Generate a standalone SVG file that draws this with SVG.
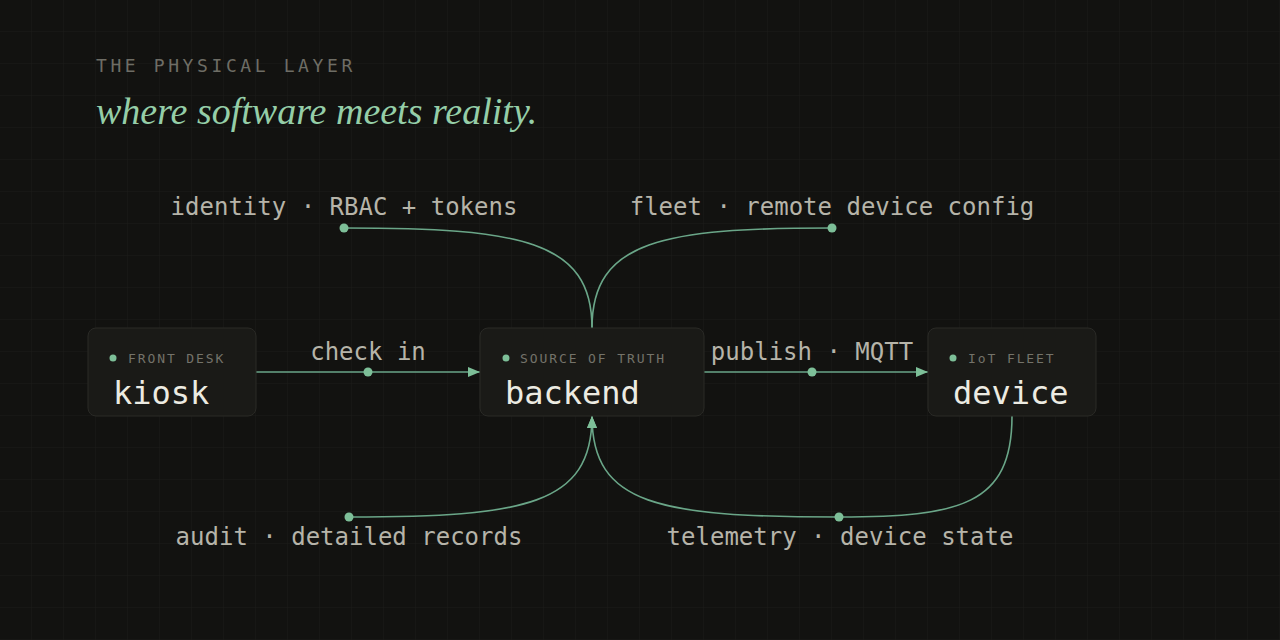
<svg xmlns="http://www.w3.org/2000/svg" width="1280" height="640" viewBox="0 0 1280 640">
  <defs>
    <pattern id="grid" width="32" height="32" patternUnits="userSpaceOnUse">
      <path d="M32 0 V32 M0 32 H32" fill="none" stroke="#1c1c19" stroke-width="1"/>
    </pattern>
    <marker id="arrow" viewBox="0 0 12 10" refX="12" refY="5" markerWidth="12" markerHeight="10" markerUnits="userSpaceOnUse" orient="auto">
      <path d="M0 0 L12 5 L0 10 Z" fill="#7dbf98"/>
    </marker>
    <style>
      .mono { font-family: "DejaVu Sans Mono", "Liberation Mono", monospace; }
      .box { fill: #1a1a17; stroke: #2a2a26; stroke-width: 1; }
      .tag { font-size: 13px; letter-spacing: 1.9px; fill: #74736a; }
      .title { font-size: 32px; fill: #ecebe2; }
      .elabel { font-size: 24px; fill: #b6b4a9; text-anchor: middle; }
      .edge { fill: none; stroke: #6aa688; stroke-width: 1.6; }
      .dot { fill: #7dbf98; }
    </style>
  </defs>

  <rect width="1280" height="640" fill="#121210"/>
  <rect width="1280" height="640" fill="url(#grid)"/>

  <g id="header">
    <text x="96" y="72" class="mono" font-size="18" letter-spacing="3.6" fill="#6e6d65">THE PHYSICAL LAYER</text>
    <text x="96" y="124" font-family="Liberation Serif, serif" font-style="italic" font-size="38" fill="#95cea8">where software meets reality.</text>
  </g>

  <g id="connectors">
    <path class="edge" d="M256 372 H480" marker-end="url(#arrow)"/>
    <circle class="dot" cx="368" cy="372" r="4.5"/>
    <text class="mono elabel" x="368" y="360">check in</text>

    <path class="edge" d="M704 372 H928" marker-end="url(#arrow)"/>
    <circle class="dot" cx="812" cy="372" r="4.5"/>
    <text class="mono elabel" x="812" y="360">publish · MQTT</text>

    <path class="edge" d="M592 328 C592 240, 520 228, 344 228"/>
    <circle class="dot" cx="344" cy="228" r="4.5"/>
    <text class="mono elabel" x="344" y="215">identity · RBAC + tokens</text>

    <path class="edge" d="M592 328 C592 240, 664 228, 832 228"/>
    <circle class="dot" cx="832" cy="228" r="4.5"/>
    <text class="mono elabel" x="832" y="215">fleet · remote device config</text>

    <path class="edge" d="M349 517 C525 517, 592 505, 592 416" marker-end="url(#arrow)"/>
    <circle class="dot" cx="349" cy="517" r="4.5"/>
    <text class="mono elabel" x="349" y="545">audit · detailed records</text>

    <path class="edge" d="M1012 416 C1012 505, 960 517, 839 517 C659 517, 592 505, 592 416" marker-end="url(#arrow)"/>
    <circle class="dot" cx="839" cy="517" r="4.5"/>
    <text class="mono elabel" x="840" y="545">telemetry · device state</text>
  </g>

  <g id="node-kiosk">
    <rect class="box" x="88" y="328" width="168" height="88" rx="8"/>
    <circle class="dot" cx="113" cy="358" r="3.5"/>
    <text class="mono tag" x="128" y="363">FRONT DESK</text>
    <text class="mono title" x="113" y="404">kiosk</text>
  </g>

  <g id="node-backend">
    <rect class="box" x="480" y="328" width="224" height="88" rx="8"/>
    <circle class="dot" cx="506" cy="358" r="3.5"/>
    <text class="mono tag" x="520" y="363">SOURCE OF TRUTH</text>
    <text class="mono title" x="505" y="404">backend</text>
  </g>

  <g id="node-device">
    <rect class="box" x="928" y="328" width="168" height="88" rx="8"/>
    <circle class="dot" cx="953" cy="358" r="3.5"/>
    <text class="mono tag" x="968" y="363">IoT FLEET</text>
    <text class="mono title" x="953" y="404">device</text>
  </g>
</svg>
